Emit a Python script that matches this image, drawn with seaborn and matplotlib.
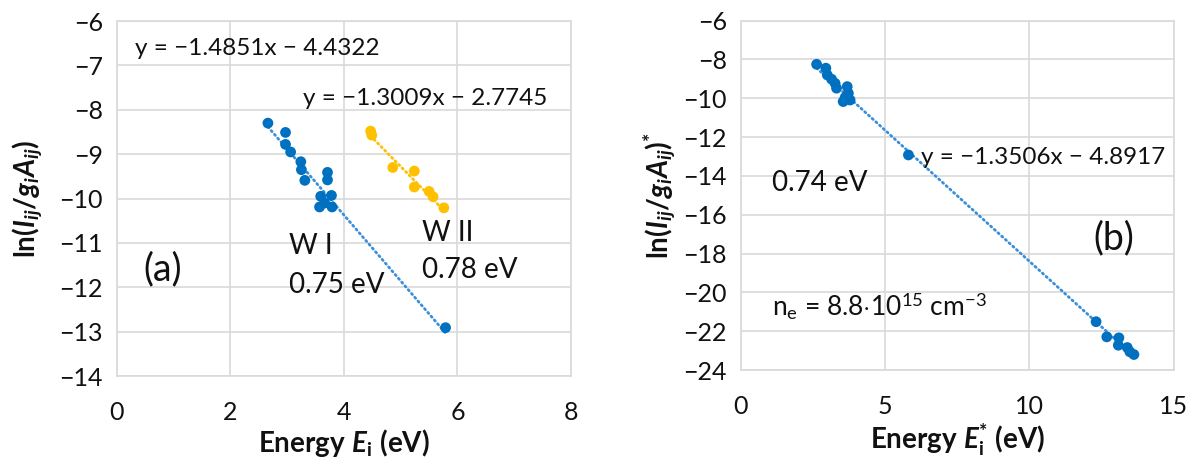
import numpy as np
import pandas as pd
import matplotlib
matplotlib.use("Agg")
import matplotlib.pyplot as plt
import seaborn as sns

# ---- data -------------------------------------------------------------
# (a) Boltzmann plot, neutral W I lines
wi_energy = [2.66, 2.97, 2.97, 3.06, 3.24, 3.25, 3.31, 3.71, 3.71, 3.59, 3.78,
             3.57, 3.79, 3.66, 5.79]
wi_lnI = [-8.30, -8.51, -8.78, -8.95, -9.17, -9.35, -9.59, -9.41, -9.58, -9.95,
          -9.93, -10.19, -10.19, -10.10, -12.91]
# (a) ionic W II lines
wii_energy = [4.47, 4.49, 4.86, 5.24, 5.24, 5.50, 5.57, 5.76]
wii_lnI = [-8.48, -8.57, -9.30, -9.38, -9.74, -9.84, -9.96, -10.21]

# (b) Saha-Boltzmann plot (W I + shifted W II lines)
sb_energy = [2.63, 2.95, 3.00, 3.15, 3.27, 3.32, 3.69, 3.73, 3.55, 3.79, 3.62,
             5.81, 12.31, 12.68, 13.10, 13.08, 13.39, 13.48, 13.62]
sb_lnI = [-8.25, -8.45, -8.80, -9.02, -9.23, -9.48, -9.40, -9.74, -10.17, -10.09,
          -9.95, -12.92, -21.51, -22.29, -22.34, -22.72, -22.84, -23.06, -23.20]

# linear fits (slope, intercept)
fit_wi = (-1.4851, -4.4322)
fit_wii = (-1.3009, -2.7745)
fit_sb = (-1.3506, -4.8917)

a_xticks = [0, 2, 4, 6, 8]
a_yticks = [-6, -7, -8, -9, -10, -11, -12, -13, -14]
b_xticks = [0, 5, 10, 15]
b_yticks = [-6, -8, -10, -12, -14, -16, -18, -20, -22, -24]

# ---- style ------------------------------------------------------------
sns.set_theme(style="white")
FONT = "Lato"
plt.rcParams["font.family"] = [FONT, "DejaVu Sans"]
plt.rcParams["mathtext.fontset"] = "custom"
plt.rcParams["mathtext.rm"] = FONT
plt.rcParams["mathtext.it"] = FONT + ":italic"
plt.rcParams["mathtext.bf"] = FONT + ":bold"
plt.rcParams["mathtext.bfit"] = FONT + ":bold:italic"
plt.rcParams["axes.unicode_minus"] = True

BLUE = "#0070C0"
GOLD = "#FFC000"
GRID = "#D9D9D9"
TXT = "#111111"
TICK_FS = 18
EQ_FS = 17.5
NOTE_FS = 20
LABEL_FS = 20

fig = plt.figure(figsize=(11.96, 4.58), dpi=100)
ax_a = fig.add_axes([0.0978, 0.179, 0.3796, 0.775])
ax_b = fig.add_axes([0.6193, 0.192, 0.3621, 0.763])


def style_axes(ax, xlim, ylim, xticks, yticks):
    ax.set_xlim(*xlim)
    ax.set_ylim(*ylim)
    ax.set_xticks(xticks)
    ax.set_yticks(yticks)
    ax.set_xticklabels([f"{t:g}".replace("-", "\u2212") for t in xticks])
    ax.set_yticklabels([f"{t:g}".replace("-", "\u2212") for t in yticks])
    ax.grid(True, color=GRID, linewidth=1.2)
    ax.set_axisbelow(True)
    for s in ax.spines.values():
        s.set_color(GRID)
        s.set_linewidth(1.2)
    ax.tick_params(axis="both", length=0, labelsize=TICK_FS, colors=TXT)
    ax.tick_params(axis="y", pad=10)
    ax.tick_params(axis="x", pad=18)


def trend(ax, xs, fit, color):
    x0, x1 = min(xs), max(xs)
    xx = np.array([x0, x1])
    df = pd.DataFrame({"x": xx, "y": fit[0] * xx + fit[1]})
    sns.lineplot(data=df, x="x", y="y", ax=ax, color=color, linewidth=2.0,
                 linestyle=(0, (0.5, 1.3)), dash_capstyle="round", zorder=2)


# ---- panel (a) --------------------------------------------------------
df_wi = pd.DataFrame({"E": wi_energy, "lnI": wi_lnI})
df_wii = pd.DataFrame({"E": wii_energy, "lnI": wii_lnI})
trend(ax_a, wi_energy, fit_wi, "#3A8FD8")
trend(ax_a, wii_energy, fit_wii, GOLD)
sns.scatterplot(data=df_wi, x="E", y="lnI", ax=ax_a, color=BLUE, s=60,
                edgecolor="none", zorder=3)
sns.scatterplot(data=df_wii, x="E", y="lnI", ax=ax_a, color=GOLD, s=60,
                edgecolor="none", zorder=3)
style_axes(ax_a, (0, 8), (-14, -6), a_xticks, a_yticks)

ax_a.text(0.31, -6.62, "y = \u22121.4851x \u2212 4.4322", fontsize=EQ_FS, color=TXT,
          va="center", ha="left")
ax_a.text(3.28, -7.74, "y = \u22121.3009x \u2212 2.7745", fontsize=EQ_FS, color=TXT,
          va="center", ha="left")
ax_a.text(3.03, -11.08, "W I", fontsize=NOTE_FS, color=TXT, va="center")
ax_a.text(3.03, -11.94, "0.75 eV", fontsize=NOTE_FS, color=TXT, va="center")
ax_a.text(5.37, -10.78, "W II", fontsize=NOTE_FS, color=TXT, va="center")
ax_a.text(5.37, -11.61, "0.78 eV", fontsize=NOTE_FS, color=TXT, va="center")
ax_a.text(0.47, -11.6, "(a)", fontsize=27, color=TXT, va="center")

ax_a.set_xlabel(r"$\mathbf{Energy}\ \mathbfit{E}_{\mathbf{i}}\ \mathbf{(eV)}$",
                fontsize=LABEL_FS, color=TXT, labelpad=2)
ax_a.set_ylabel(r"$\mathbf{ln(}\mathbfit{I}_{\mathbfit{ij}}\mathbf{/}\mathbfit{g}_{\mathbfit{i}}"
                r"\mathbfit{A}_{\mathbfit{ij}}\mathbf{)}$",
                fontsize=LABEL_FS, color=TXT, labelpad=11)

# ---- panel (b) --------------------------------------------------------
df_sb = pd.DataFrame({"E": sb_energy, "lnI": sb_lnI})
trend(ax_b, sb_energy, fit_sb, "#3A8FD8")
sns.scatterplot(data=df_sb, x="E", y="lnI", ax=ax_b, color=BLUE, s=60,
                edgecolor="none", zorder=3)
style_axes(ax_b, (0, 15), (-24, -6), b_xticks, b_yticks)

ax_b.text(6.25, -13.03, "y = \u22121.3506x \u2212 4.8917", fontsize=EQ_FS, color=TXT,
          va="center", ha="left")
ax_b.text(1.08, -14.37, "0.74 eV", fontsize=NOTE_FS, color=TXT, va="center")
ax_b.text(12.2, -17.2, "(b)", fontsize=27, color=TXT, va="center")
ax_b.text(1.08, -20.65, r"n$_{\rm e}$ = 8.8$\cdot$10$^{15}$ cm$^{-3}$", fontsize=19,
          color=TXT, va="center")

ax_b.set_xlabel(r"$\mathbf{Energy}\ \mathbfit{E}_{\mathbf{i}}^{\mathbf{*}}\ \mathbf{(eV)}$",
                fontsize=LABEL_FS, color=TXT, labelpad=2)
ax_b.set_ylabel(r"$\mathbf{ln(}\mathbfit{I}_{\mathbfit{ij}}\mathbf{/}\mathbfit{g}_{\mathbfit{i}}"
                r"\mathbfit{A}_{\mathbfit{ij}}\mathbf{)}^{\mathbf{*}}$",
                fontsize=LABEL_FS, color=TXT, labelpad=4)

fig.savefig("out.png", dpi=100, facecolor="white")
